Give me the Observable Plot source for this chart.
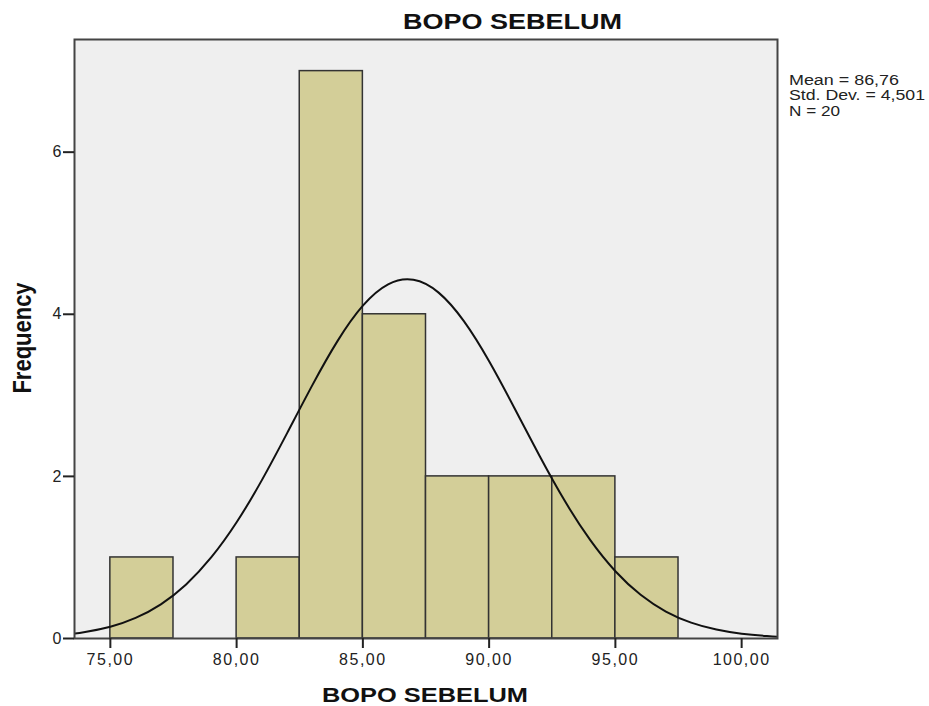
<!DOCTYPE html>
<html>
<head>
<meta charset="utf-8">
<script src="https://cdn.jsdelivr.net/npm/d3@7"></script>
<script src="https://cdn.jsdelivr.net/npm/@observablehq/plot@0.6"></script>
<style>
  html, body { margin: 0; padding: 0; background: white; }
</style>
</head>
<body>
<div id="chart"></div>
<script>
// Histogram bins (BOPO SEBELUM), width 2.5
const binStart = [75, 77.5, 80, 82.5, 85, 87.5, 90, 92.5, 95];
const binEnd   = [77.5, 80, 82.5, 85, 87.5, 90, 92.5, 95, 97.5];
const counts   = [1, 0, 1, 7, 4, 2, 2, 2, 1];

// Normal curve
const curveX = [73.6, 74, 75, 76, 77, 78, 79, 80, 81, 82, 83, 84, 85, 86, 87, 88, 89, 90, 91, 92, 93, 94, 95, 96, 97, 98, 99, 100, 101, 101.4];
const curveY = [0.062, 0.080, 0.146, 0.254, 0.422, 0.667, 1.003, 1.434, 1.954, 2.534, 3.126, 3.672, 4.106, 4.369, 4.425, 4.267, 3.915, 3.420, 2.844, 2.251, 1.695, 1.216, 0.830, 0.539, 0.333, 0.196, 0.110, 0.059, 0.030, 0.022];

const xTicks = [75, 80, 85, 90, 95, 100];
const yTicks = [0, 2, 4, 6];
const statsLines = ["Mean = 86,76", "Std. Dev. = 4,501", "N = 20"];
const titleText = "BOPO SEBELUM";
const xLabel = "BOPO SEBELUM";
const yLabel = "Frequency";

const bins = binStart.map((s, i) => ({x1: s, x2: binEnd[i], count: counts[i]})).filter(d => d.count > 0);
const curve = curveX.map((x, i) => ({x, y: curveY[i]}));

const chart = Plot.plot({
  width: 929,
  height: 706,
  marginLeft: 74,
  marginTop: 39,
  marginRight: 152,
  marginBottom: 68,
  style: {fontFamily: "'Liberation Sans', Arial, sans-serif", fontSize: "16px", background: "white", color: "#222"},
  x: {domain: [73.58, 101.42]},
  y: {domain: [0, 7.39]},
  marks: [
    Plot.frame({fill: "#efefef"}),
    Plot.rectY(bins, {x1: "x1", x2: "x2", y: "count", fill: "#d3ce98", stroke: "#333", strokeWidth: 1.5}),
    Plot.line(curve, {x: "x", y: "y", curve: "natural", stroke: "#111", strokeWidth: 2}),
    Plot.frame({stroke: "#444", strokeWidth: 2}),
    Plot.axisX({ticks: xTicks, tickFormat: d => d.toFixed(2).replace(".", ","), tickSize: 10, tickPadding: 5, label: null, fontSize: 16, strokeWidth: 2}),
    Plot.axisY({ticks: yTicks, tickSize: 11, tickPadding: 2, label: null, fontSize: 16, strokeWidth: 2})
  ]
});

document.getElementById("chart").appendChild(chart);
const svg = d3.select(chart);
svg.selectAll("g[aria-label='x-axis tick label'] text").style("letter-spacing", "1.5px");

svg.append("text")
  .attr("x", 403).attr("y", 29)
  .attr("text-anchor", "start")
  .attr("font-size", 22).attr("font-weight", "bold").attr("fill", "#111")
  .attr("textLength", 219).attr("lengthAdjust", "spacingAndGlyphs")
  .text(titleText);

svg.append("text")
  .attr("x", 322).attr("y", 702)
  .attr("text-anchor", "start")
  .attr("font-size", 21).attr("font-weight", "bold").attr("fill", "#111")
  .attr("textLength", 206).attr("lengthAdjust", "spacingAndGlyphs")
  .text(xLabel);

svg.append("text")
  .attr("transform", "translate(31,338) scale(1.2,1) rotate(-90)")
  .attr("text-anchor", "middle")
  .attr("font-size", 22).attr("font-weight", "bold").attr("fill", "#111")
  .text(yLabel);

const statLens = [110, 136, 51];
const statY = [85, 100, 116];
statsLines.forEach((t, i) => {
  svg.append("text")
    .attr("x", 789).attr("y", statY[i])
    .attr("text-anchor", "start")
    .attr("font-size", 14).attr("fill", "#222")
    .attr("textLength", statLens[i]).attr("lengthAdjust", "spacingAndGlyphs")
    .text(t);
});
</script>
</body>
</html>
